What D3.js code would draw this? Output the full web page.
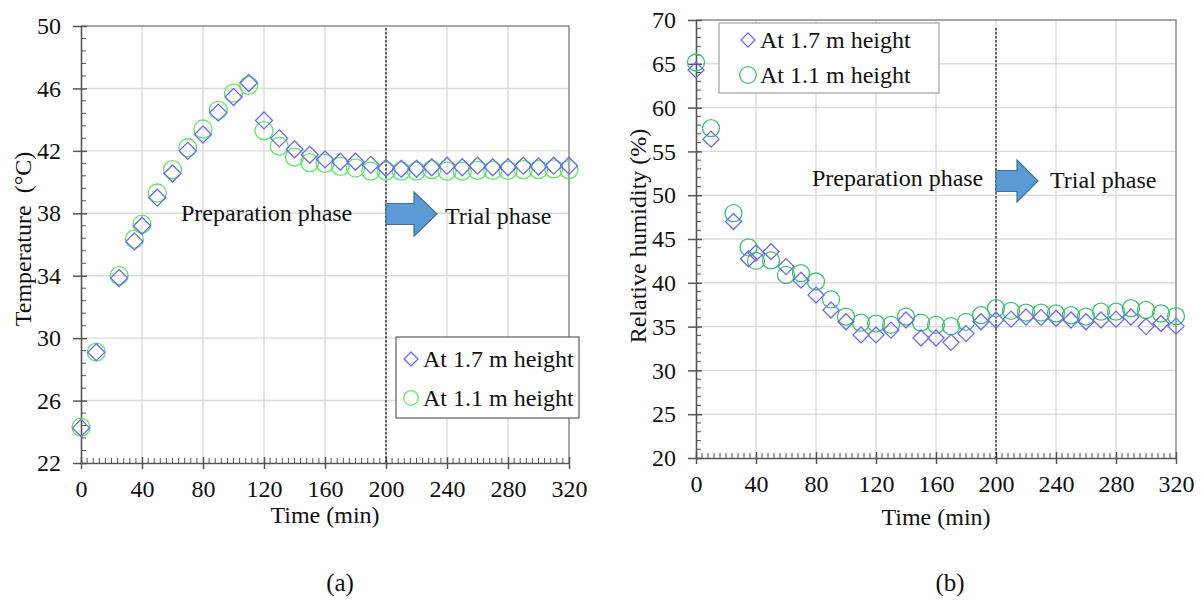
<!DOCTYPE html>
<html>
<head>
<meta charset="utf-8">
<script src="https://cdn.jsdelivr.net/npm/d3@7"></script>
<style>
  html, body { margin: 0; padding: 0; background: #fff; }
  svg text { font-family: "Liberation Serif", "Times New Roman", serif; fill: #111; }
</style>
</head>
<body>
<svg id="chart" width="1201" height="600"></svg>
<script>
// Sampling times (min)
const timeMin = [0, 10, 25, 35, 40, 50, 60, 70, 80, 90, 100, 110, 120, 130, 140, 150, 160,
  170, 180, 190, 200, 210, 220, 230, 240, 250, 260, 270, 280, 290, 300, 310, 320];

// Air temperature (°C)
const tempAt17 = [24.25, 29.1, 33.85, 36.2, 37.2, 39.0, 40.55, 42.0, 43.05, 44.45, 45.45, 46.35,
  43.95, 42.8, 42.1, 41.75, 41.45, 41.3, 41.3, 41.1, 40.9, 40.85, 40.85, 40.95, 41.05, 40.95,
  41.05, 40.95, 40.95, 41.05, 41.0, 41.05, 41.05];
const tempAt11 = [24.3, 29.1, 34.0, 36.35, 37.3, 39.3, 40.8, 42.2, 43.4, 44.6, 45.7, 46.2,
  43.3, 42.3, 41.6, 41.25, 41.2, 41.0, 40.9, 40.7, 40.7, 40.7, 40.7, 40.8, 40.7, 40.7,
  40.75, 40.75, 40.75, 40.8, 40.8, 40.85, 40.8];

// Relative humidity (%)
const rhAt17 = [64.3, 56.4, 47.0, 42.75, 43.4, 43.55, 41.85, 40.3, 38.6, 36.9, 35.55, 34.05,
  34.05, 34.6, 35.75, 33.7, 33.7, 33.2, 34.2, 35.55, 35.75, 35.85, 36.1, 36.05, 35.95, 35.75,
  35.55, 35.75, 35.85, 36.1, 35.0, 35.35, 35.05];
const rhAt11 = [65.15, 57.65, 47.95, 44.05, 42.5, 42.55, 40.9, 41.1, 40.15, 38.1, 36.15, 35.45,
  35.35, 35.2, 36.15, 35.45, 35.2, 35.05, 35.55, 36.3, 37.1, 36.8, 36.6, 36.6, 36.5, 36.3,
  36.15, 36.7, 36.7, 37.1, 36.9, 36.5, 36.2];

// Axis ticks and labels
const timeTicks = [0, 40, 80, 120, 160, 200, 240, 280, 320];
const tempTicks = [22, 26, 30, 34, 38, 42, 46, 50];
const rhTicks = [20, 25, 30, 35, 40, 45, 50, 55, 60, 65, 70];
const seriesNames = ["At 1.7 m height", "At 1.1 m height"];
const phaseNames = ["Preparation phase", "Trial phase"];
const phaseStart = 200;
const panelNames = ["(a)", "(b)"];

const svg = d3.select("#chart");
svg.append("rect").attr("width", 1201).attr("height", 600).attr("fill", "#fff");

const diamondPath = (cx, cy, s) =>
  `M${cx},${cy - s}L${cx + s},${cy}L${cx},${cy + s}L${cx - s},${cy}Z`;

function drawPanel(o) {
  const x = d3.scaleLinear().domain([0, 320]).range([o.left, o.right]);
  const y = d3.scaleLinear().domain([o.yTicks[0], o.yTicks[o.yTicks.length - 1]]).range([o.bottom, o.top]);
  const g = svg.append("g");

  // grid
  g.append("g").selectAll("line").data(timeTicks.slice(1, -1)).join("line")
    .attr("x1", d => x(d)).attr("x2", d => x(d))
    .attr("y1", o.top).attr("y2", o.bottom)
    .attr("stroke", "#dcdcdc").attr("stroke-width", 1.4);
  g.append("g").selectAll("line").data(o.yTicks.slice(1, -1)).join("line")
    .attr("x1", o.left).attr("x2", o.right)
    .attr("y1", d => y(d)).attr("y2", d => y(d))
    .attr("stroke", "#dcdcdc").attr("stroke-width", 1.4);

  // frame (top and right)
  g.append("path")
    .attr("d", `M${o.left},${o.top}H${o.right}V${o.bottom}`)
    .attr("fill", "none").attr("stroke", "#8a8a8a").attr("stroke-width", 1.5);

  // minor ticks
  const minorX = d3.range(0, 320, 4).filter(v => v % 40 !== 0);
  g.append("g").selectAll("line").data(minorX).join("line")
    .attr("x1", d => x(d)).attr("x2", d => x(d))
    .attr("y1", o.bottom).attr("y2", o.bottom - 5)
    .attr("stroke", "#555").attr("stroke-width", 1);
  const step = o.yTicks[1] - o.yTicks[0];
  const minorY = [];
  for (let i = 0; i < o.yTicks.length - 1; i++) {
    for (let k = 1; k < 5; k++) minorY.push(o.yTicks[i] + step * k / 5);
  }
  g.append("g").selectAll("line").data(minorY).join("line")
    .attr("x1", o.left).attr("x2", o.left + 5)
    .attr("y1", d => y(d)).attr("y2", d => y(d))
    .attr("stroke", "#555").attr("stroke-width", 1);

  // axes
  const ax = g.append("g").attr("transform", `translate(0,${o.bottom})`)
    .call(d3.axisBottom(x).tickValues(timeTicks).tickSize(6).tickSizeOuter(0).tickPadding(11));
  ax.selectAll(".tick line").attr("y1", -6).attr("stroke", "#555").attr("stroke-width", 1.5);
  const ay = g.append("g").attr("transform", `translate(${o.left},0)`)
    .call(d3.axisLeft(y).tickValues(o.yTicks).tickSize(8).tickSizeOuter(0).tickPadding(12));
  ay.selectAll(".tick line").attr("x1", 6).attr("stroke", "#555").attr("stroke-width", 1.5);
  [ax, ay].forEach(a => {
    a.select(".domain").attr("stroke", "#555").attr("stroke-width", 1.6);
    a.selectAll("text").attr("font-size", 24)
      .attr("font-family", '"Liberation Serif", "Times New Roman", serif').attr("fill", "#111");
  });

  // axis titles
  g.append("text").attr("x", (o.left + o.right) / 2).attr("y", o.xTitleY)
    .attr("text-anchor", "middle").attr("font-size", 24).text("Time (min)");
  g.append("text")
    .attr("transform", `translate(${o.left - 50},${o.yTitleY}) rotate(-90)`)
    .attr("text-anchor", "middle").attr("font-size", 24).attr("xml:space", "preserve")
    .text(o.yTitle);

  // phase boundary
  g.append("line")
    .attr("x1", x(phaseStart)).attr("x2", x(phaseStart))
    .attr("y1", o.dashTop).attr("y2", o.bottom)
    .attr("stroke", "#222").attr("stroke-width", 1.3).attr("stroke-dasharray", "2.5,1.5");

  // phase annotation arrow
  const a0 = x(phaseStart), cy = o.arrow.cy;
  const sx = a0 + o.arrow.shaft, tx = a0 + o.arrow.len;
  g.append("path")
    .attr("d", `M${a0},${cy - o.arrow.sh}H${sx}V${cy - o.arrow.hh}L${tx},${cy}L${sx},${cy + o.arrow.hh}V${cy + o.arrow.sh}H${a0}Z`)
    .attr("fill", "#5b9bd5").attr("stroke", "#41719c").attr("stroke-width", 1.2);
  g.append("text").attr("x", o.prepX).attr("y", o.prepY).attr("font-size", 24).text(phaseNames[0]);
  g.append("text").attr("x", o.trialX).attr("y", o.trialY).attr("font-size", 24).text(phaseNames[1]);

  // data: 1.1 m circles and 1.7 m diamonds
  g.append("g").selectAll("circle").data(timeMin).join("circle")
    .attr("cx", d => x(d)).attr("cy", (d, i) => y(o.low[i])).attr("r", o.r)
    .attr("fill", "none").attr("stroke", o.circleColor).attr("stroke-width", 1.3);
  g.append("g").selectAll("path").data(timeMin).join("path")
    .attr("d", (d, i) => diamondPath(x(d), y(o.high[i]), o.s))
    .attr("fill", "none").attr("stroke", "#6a6af2").attr("stroke-width", 1.3);

  // legend
  const L = o.legend;
  g.append("rect").attr("x", L.x).attr("y", L.y).attr("width", L.w).attr("height", L.h)
    .attr("fill", "#fff").attr("stroke", L.stroke).attr("stroke-width", 1.3);
  g.append("path").attr("d", diamondPath(L.x + L.mx, L.y + L.r1, 7))
    .attr("fill", "none").attr("stroke", "#6a6af2").attr("stroke-width", 1.3);
  g.append("circle").attr("cx", L.x + L.mx).attr("cy", L.y + L.r2).attr("r", L.cr)
    .attr("fill", "none").attr("stroke", o.circleColor).attr("stroke-width", 1.3);
  g.append("text").attr("x", L.x + L.tx).attr("y", L.y + L.r1 + 8).attr("font-size", 24).text(seriesNames[0]);
  g.append("text").attr("x", L.x + L.tx).attr("y", L.y + L.r2 + 8).attr("font-size", 24).text(seriesNames[1]);

  // panel label
  svg.append("text").attr("x", o.panelX).attr("y", 591).attr("text-anchor", "middle")
    .attr("font-size", 25).text(o.panel);
}

drawPanel({
  left: 81, right: 569, top: 26, bottom: 463,
  yTicks: tempTicks, yTitle: "Temperature  (°C)", xTitleY: 523, yTitleY: 239,
  high: tempAt17, low: tempAt11, circleColor: "#5ee85e", r: 9, s: 8.5,
  dashTop: 28,
  arrow: { cy: 214, shaft: 28, len: 51, sh: 10.5, hh: 22 },
  prepX: 181, prepY: 221, trialX: 445, trialY: 224,
  legend: { x: 396, y: 337, w: 183, h: 81, mx: 15, r1: 22, r2: 61, tx: 27, cr: 7.3, stroke: "#6a6a6a" },
  panelX: 340, panel: panelNames[0]
});

drawPanel({
  left: 696, right: 1176, top: 20, bottom: 458,
  yTicks: rhTicks, yTitle: "Relative humidity (%)", xTitleY: 525, yTitleY: 236,
  high: rhAt17, low: rhAt11, circleColor: "#3cc46e", r: 8.5, s: 8,
  dashTop: 28,
  arrow: { cy: 181, shaft: 21, len: 42, sh: 10.5, hh: 21 },
  prepX: 812, prepY: 186, trialX: 1050, trialY: 188,
  legend: { x: 719, y: 23, w: 220, h: 70, mx: 29, r1: 17, r2: 52, tx: 41, cr: 8.3, stroke: "#a8a8a8" },
  panelX: 950, panel: panelNames[1]
});
</script>
</body>
</html>
